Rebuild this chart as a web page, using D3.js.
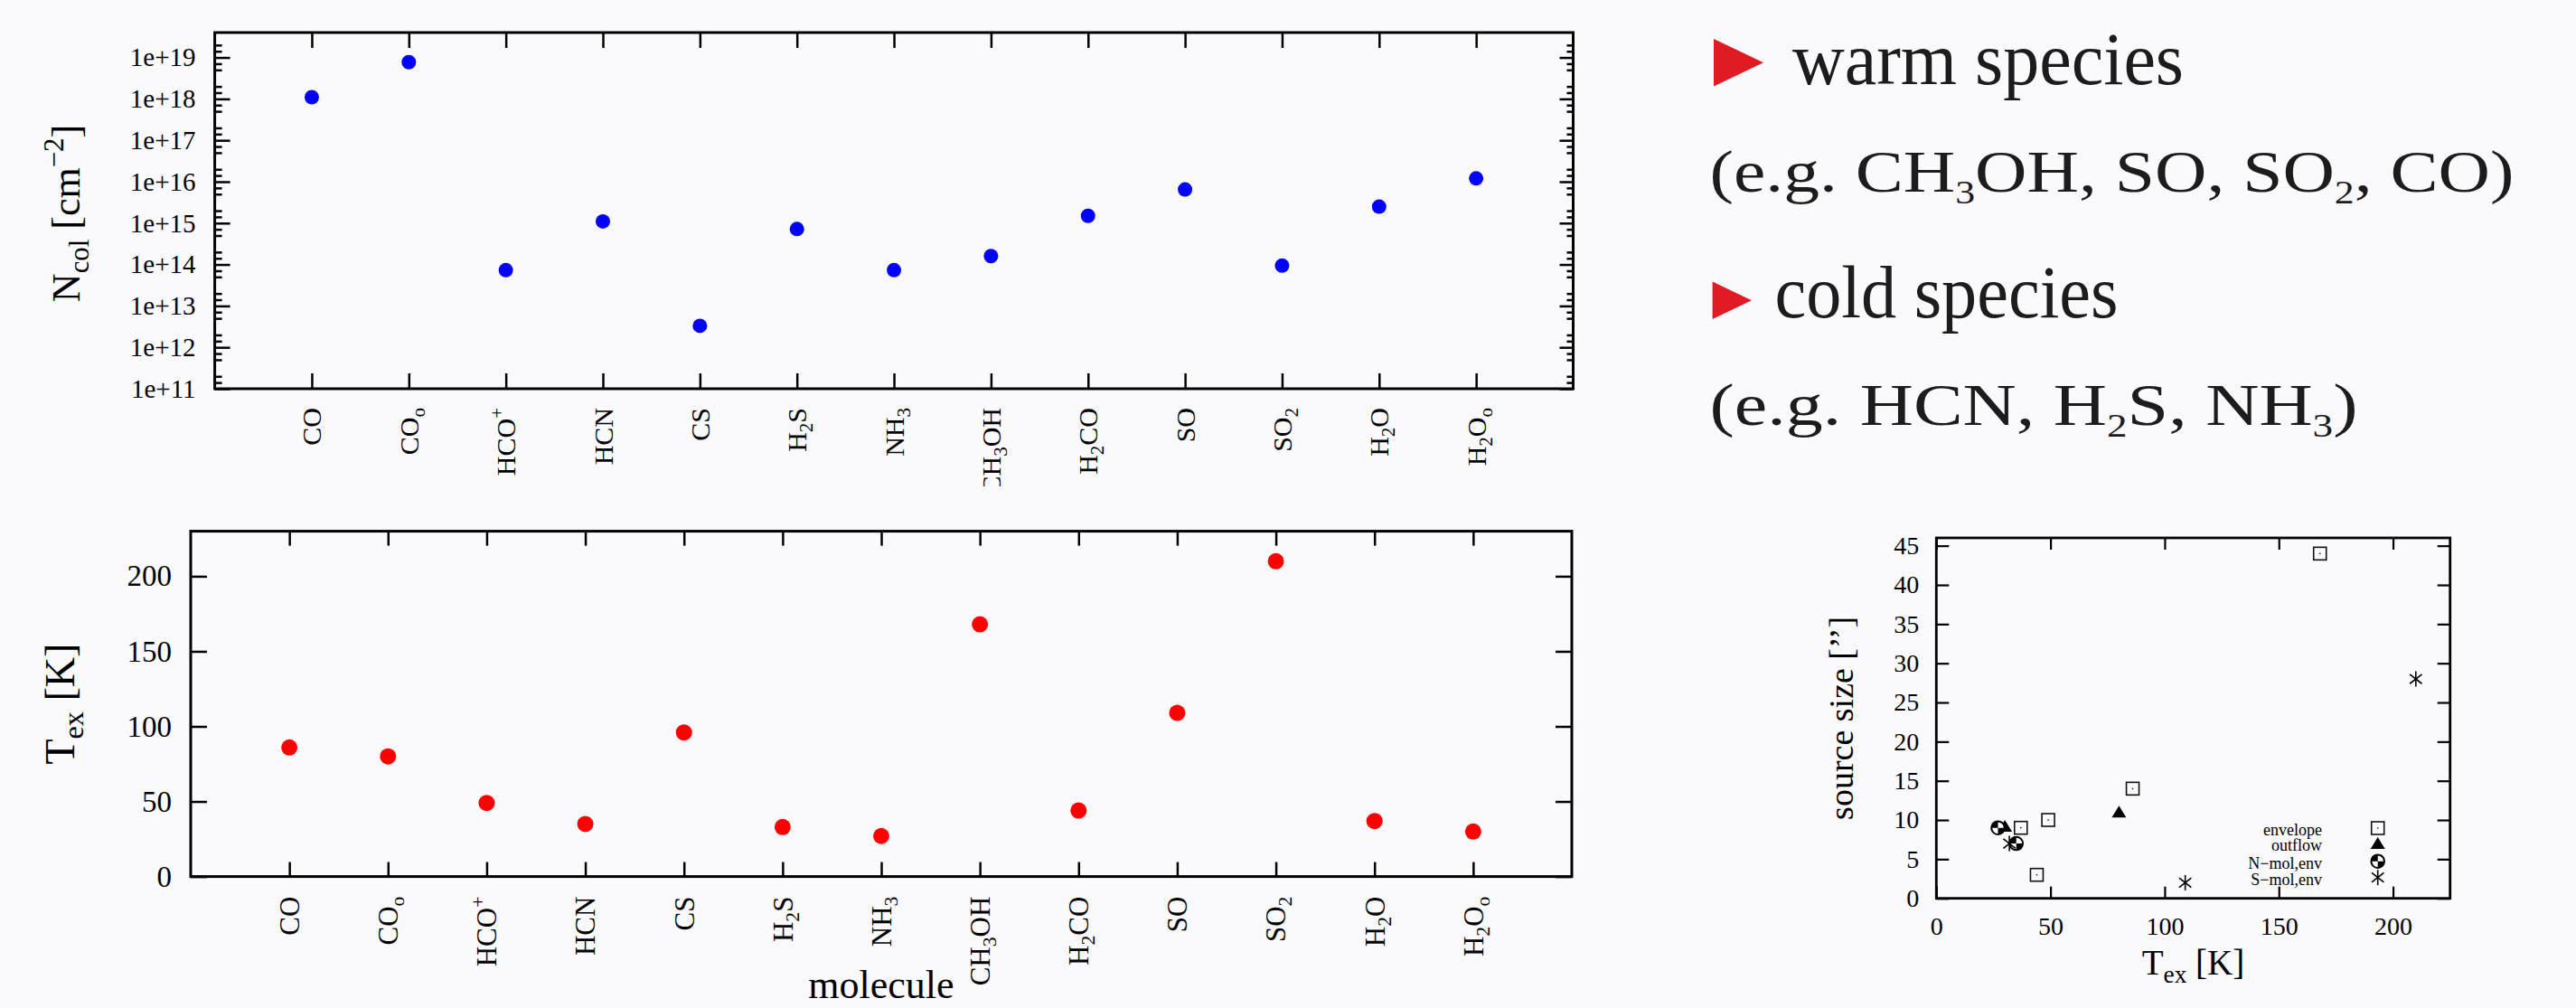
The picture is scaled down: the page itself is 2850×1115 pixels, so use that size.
<!DOCTYPE html>
<html><head><meta charset="utf-8">
<script src="https://cdn.jsdelivr.net/npm/d3@7"></script>
<style>html,body{margin:0;padding:0;background:#faf9fc;} svg{display:block;}</style>
</head><body>
<script>
// ---------------- data ----------------
const categories = ["CO","CO_o","HCO^+","HCN","CS","H_2S","NH_3","CH_3OH","H_2CO","SO","SO_2","H_2O","H_2O_o"];
const ncolValues = [1.1e18, 7.7e18, 7.3e13, 1.1e15, 3.3e12, 7.2e14, 7.3e13, 1.6e14, 1.5e15, 6.5e15, 9.4e13, 2.5e15, 1.2e16];
const texValues  = [86, 80, 49, 35, 96, 33, 27, 168, 44, 109, 210, 37, 30];
const ncolTickValues = [1e11,1e12,1e13,1e14,1e15,1e16,1e17,1e18,1e19];
const texTickValues = [0,50,100,150,200];
// source size vs Tex  ([Tex, size])
const envelopePts = [[86,14],[49,10],[37,9],[44,3],[168,44]];
const outflowPts  = [[80,11],[30,9.2]];
const nmolPts     = [[27,9],[35,7]];
const smolPts     = [[32,7],[109,2],[210,28]];
const sizeXTicks = [0,50,100,150,200];
const sizeYTicks = [0,5,10,15,20,25,30,35,40,45];
const legendNames = ["envelope","outflow","N\u2212mol,env","S\u2212mol,env"];

(function () {
// ---------------- helpers ----------------
const W = 2850, H = 1115;
const FONT = "'Liberation Serif','Times New Roman',serif";
const svg = d3.select("body").append("svg").attr("width", W).attr("height", H);
svg.append("rect").attr("width", W).attr("height", H).attr("fill", "#faf9fc");

function rich(textSel, str, fs, opt = {}) {
  const subScale = opt.subScale || 0.7, subShift = opt.subShift || 0.22, supShift = opt.supShift || 0.42;
  const parts = []; let buf = ""; let i = 0;
  while (i < str.length) {
    const c = str[i];
    if (c === "_" || c === "^") {
      if (buf) { parts.push({t: buf, k: "n"}); buf = ""; }
      let t;
      if (str[i+1] === "{") { const j = str.indexOf("}", i+2); t = str.slice(i+2, j); i = j + 1; }
      else { t = str[i+1]; i += 2; }
      parts.push({t, k: c === "_" ? "sub" : "sup"});
    } else { buf += c; i++; }
  }
  if (buf) parts.push({t: buf, k: "n"});
  parts.forEach(p => {
    const ts = textSel.append("tspan").text(p.t);
    if (p.k !== "n") {
      ts.attr("font-size", (fs * subScale) + "px")
        .attr("baseline-shift", (p.k === "sub" ? -subShift * fs : supShift * fs) + "px");
    }
  });
  return textSel;
}
function styleAxis(g, sw) {
  g.select(".domain").remove();
  g.selectAll("line").attr("stroke", "#000").attr("stroke-width", sw);
  g.attr("font-family", FONT);
}

// ---------------- top panel: column density ----------------
svg.append("clipPath").attr("id", "clipTop").append("rect").attr("x", 0).attr("y", 0).attr("width", 1850).attr("height", 538);
const topG = svg.append("g").attr("clip-path", "url(#clipTop)");
const tx = d3.scaleLinear().domain([0, 14]).range([237.6, 1740.5]);
const ty = d3.scaleLog().domain([1e11, 4e19]).range([430, 36]);
const minorLog = [];
ncolTickValues.forEach(v => [-0.3,-0.15,0.15,0.3].forEach(o => { const m = v * Math.pow(10, o); if (m > 1e11 && m < 4e19) minorLog.push(m); }));

let g = topG.append("g").attr("transform", `translate(${tx(0)},0)`)
  .call(d3.axisLeft(ty).tickValues(ncolTickValues).tickFormat(d => "1e+" + Math.round(Math.log10(d))).tickSize(-17).tickPadding(21));
styleAxis(g, 2.5);
g.selectAll("text").attr("font-size", 29).attr("fill", "#000");
g = topG.append("g").attr("transform", `translate(${tx(0)},0)`).call(d3.axisLeft(ty).tickValues(minorLog).tickFormat("").tickSize(-8));
styleAxis(g, 2.5);
g = topG.append("g").attr("transform", `translate(${tx(14)},0)`).call(d3.axisRight(ty).tickValues(ncolTickValues).tickFormat("").tickSize(-15));
styleAxis(g, 2.5);
g = topG.append("g").attr("transform", `translate(${tx(14)},0)`).call(d3.axisRight(ty).tickValues(minorLog).tickFormat("").tickSize(-7));
styleAxis(g, 2.5);
g = topG.append("g").attr("transform", `translate(0,${ty(1e11)})`).call(d3.axisBottom(tx).tickValues(d3.range(1, 14)).tickFormat("").tickSize(-17));
styleAxis(g, 2.5);
g = topG.append("g").attr("transform", `translate(0,${ty(4e19)})`).call(d3.axisTop(tx).tickValues(d3.range(1, 14)).tickFormat("").tickSize(-17));
styleAxis(g, 2.5);
topG.append("rect").attr("x", tx(0)).attr("y", ty(4e19)).attr("width", tx(14) - tx(0)).attr("height", ty(1e11) - ty(4e19))
  .attr("fill", "none").attr("stroke", "#000").attr("stroke-width", 3);
categories.forEach((c, i) => {
  const t = topG.append("text").attr("transform", `translate(${tx(i + 1)},${ty(1e11) + 21}) rotate(-90)`)
    .attr("text-anchor", "end").attr("dy", "0.35em").attr("font-family", FONT).attr("font-size", 30).attr("fill", "#000");
  rich(t, c, 30);
});
topG.selectAll("circle.n").data(ncolValues).join("circle").attr("class", "n")
  .attr("cx", (d, i) => tx(i + 1)).attr("cy", d => ty(d)).attr("r", 8).attr("fill", "#0000ff");
rich(topG.append("text").attr("transform", `translate(88,${(ty(1e11) + ty(4e19)) / 2 + 3}) rotate(-90)`)
  .attr("text-anchor", "middle").attr("font-family", FONT).attr("font-size", 44).attr("fill", "#000"), "N_{col} [cm^{\u22122}]", 44);

// ---------------- bottom panel: excitation temperature ----------------
const bx = d3.scaleLinear().domain([0, 14]).range([211, 1739]);
const by = d3.scaleLinear().domain([0, 230]).range([969.6, 587.6]);
const bot = svg.append("g");
g = bot.append("g").attr("transform", `translate(${bx(0)},0)`)
  .call(d3.axisLeft(by).tickValues(texTickValues).tickSize(-18).tickPadding(21));
styleAxis(g, 2.5);
g.selectAll("text").attr("font-size", 33).attr("fill", "#000");
g = bot.append("g").attr("transform", `translate(${bx(14)},0)`).call(d3.axisRight(by).tickValues(texTickValues).tickFormat("").tickSize(-18));
styleAxis(g, 2.5);
g = bot.append("g").attr("transform", `translate(0,${by(0)})`).call(d3.axisBottom(bx).tickValues(d3.range(1, 14)).tickFormat("").tickSize(-16));
styleAxis(g, 2.5);
g = bot.append("g").attr("transform", `translate(0,${by(230)})`).call(d3.axisTop(bx).tickValues(d3.range(1, 14)).tickFormat("").tickSize(-16));
styleAxis(g, 2.5);
bot.append("rect").attr("x", bx(0)).attr("y", by(230)).attr("width", bx(14) - bx(0)).attr("height", by(0) - by(230))
  .attr("fill", "none").attr("stroke", "#000").attr("stroke-width", 3);
bot.append("text").attr("x", (bx(0) + bx(14)) / 2).attr("y", 1104).attr("text-anchor", "middle")
  .attr("font-family", FONT).attr("font-size", 44).attr("fill", "#000").text("molecule");
categories.forEach((c, i) => {
  const t = bot.append("text").attr("transform", `translate(${bx(i + 1)},${by(0) + 22}) rotate(-90)`)
    .attr("text-anchor", "end").attr("dy", "0.35em").attr("font-family", FONT).attr("font-size", 31).attr("fill", "#000");
  rich(t, c, 31);
});
bot.selectAll("circle.t").data(texValues).join("circle").attr("class", "t")
  .attr("cx", (d, i) => bx(i + 1)).attr("cy", d => by(d)).attr("r", 9).attr("fill", "#ff0000");
rich(bot.append("text").attr("transform", `translate(82,${(by(0) + by(230)) / 2}) rotate(-90)`)
  .attr("text-anchor", "middle").attr("font-family", FONT).attr("font-size", 46).attr("fill", "#000"), "T_{ex} [K]", 46);

// ---------------- right text ----------------
const txt = svg.append("g").attr("font-family", FONT).attr("fill", "#1c1c1c");
const tri = (x0, y0, x1, y1) => `M${x0},${y0}L${x1},${(y0 + y1) / 2}L${x0},${y1}Z`;
txt.append("path").attr("d", tri(1896, 43, 1951, 95.4)).attr("fill", "#e01b24");
txt.append("path").attr("d", tri(1894.6, 311.6, 1938, 353)).attr("fill", "#e01b24");
const lines = [
  {s: "warm species", x: 1983, y: 93, fs: 82, w: 433},
  {s: "(e.g. CH_3OH, SO, SO_2, CO)", x: 1891.5, y: 212, fs: 66, w: 890},
  {s: "cold species", x: 1963.5, y: 351, fs: 82, w: 380},
  {s: "(e.g. HCN, H_2S, NH_3)", x: 1891.5, y: 470, fs: 66, w: 717}
];
lines.forEach(L => {
  const t = txt.append("text").attr("x", L.x).attr("y", L.y).attr("font-size", L.fs)
    .attr("textLength", L.w).attr("lengthAdjust", "spacingAndGlyphs");
  rich(t, L.s, L.fs, {subScale: 0.55, subShift: 0.19});
});

// ---------------- scatter: source size vs Tex ----------------
const sx = d3.scaleLinear().domain([0, 225]).range([2142.3, 2710.7]);
const sy = d3.scaleLinear().domain([0, 46]).range([993.7, 595]);
const sc = svg.append("g");
g = sc.append("g").attr("transform", `translate(${sx(0)},0)`).call(d3.axisLeft(sy).tickValues(sizeYTicks).tickSize(-14).tickPadding(19));
styleAxis(g, 2.2); g.selectAll("text").attr("font-size", 28).attr("fill", "#000");
g = sc.append("g").attr("transform", `translate(${sx(225)},0)`).call(d3.axisRight(sy).tickValues(sizeYTicks).tickFormat("").tickSize(-14));
styleAxis(g, 2.2);
g = sc.append("g").attr("transform", `translate(0,${sy(0)})`).call(d3.axisBottom(sx).tickValues(sizeXTicks).tickSize(-13).tickPadding(20));
styleAxis(g, 2.2); g.selectAll("text").attr("font-size", 28).attr("fill", "#000");
g = sc.append("g").attr("transform", `translate(0,${sy(46)})`).call(d3.axisTop(sx).tickValues(sizeXTicks).tickFormat("").tickSize(-13));
styleAxis(g, 2.2);
sc.append("rect").attr("x", sx(0)).attr("y", sy(46)).attr("width", sx(225) - sx(0)).attr("height", sy(0) - sy(46))
  .attr("fill", "none").attr("stroke", "#000").attr("stroke-width", 2.8);
rich(sc.append("text").attr("x", (sx(0) + sx(225)) / 2).attr("y", 1077.7).attr("text-anchor", "middle")
  .attr("font-family", FONT).attr("font-size", 39).attr("fill", "#000"), "T_{ex} [K]", 39);
sc.append("text").attr("transform", `translate(2050,${(sy(0) + sy(46)) / 2}) rotate(-90)`).attr("text-anchor", "middle")
  .attr("font-family", FONT).attr("font-size", 38).attr("fill", "#000").text("source size [\u2019\u2019]");

function markSquare(gg, x, y) {
  gg.append("rect").attr("x", x - 7).attr("y", y - 7).attr("width", 14).attr("height", 14).attr("fill", "none").attr("stroke", "#111").attr("stroke-width", 1.6);
  gg.append("rect").attr("x", x - 0.7).attr("y", y - 0.7).attr("width", 1.4).attr("height", 1.4).attr("fill", "#111");
}
function markTri(gg, x, y) {
  gg.append("path").attr("d", `M${x - 8},${y + 6}L${x + 8},${y + 6}L${x},${y - 7}Z`).attr("fill", "#000");
}
function markCirc(gg, x, y) {
  const r = 7.3;
  gg.append("circle").attr("cx", x).attr("cy", y).attr("r", r).attr("fill", "#fff").attr("stroke", "#000").attr("stroke-width", 2);
  gg.append("path").attr("d", `M${x},${y}L${x - r},${y}A${r},${r} 0 0 1 ${x},${y - r}Z`).attr("fill", "#000");
  gg.append("path").attr("d", `M${x},${y}L${x + r},${y}A${r},${r} 0 0 1 ${x},${y + r}Z`).attr("fill", "#000");
}
function markStar(gg, x, y) {
  const r = 8.5;
  [90, 38, -38].forEach(a => {
    const dx = r * Math.cos(a * Math.PI / 180), dy = r * Math.sin(a * Math.PI / 180);
    gg.append("line").attr("x1", x - dx).attr("y1", y - dy).attr("x2", x + dx).attr("y2", y + dy).attr("stroke", "#000").attr("stroke-width", 1.6);
  });
}
const marks = [markSquare, markTri, markCirc, markStar];
[envelopePts, outflowPts, nmolPts, smolPts].forEach((pts, k) => {
  pts.forEach(d => marks[k](sc, sx(d[0]), sy(d[1])));
});
// legend
const legY = [916, 933, 952.7, 970.7];
legendNames.forEach((n, k) => {
  sc.append("text").attr("x", 2569).attr("y", legY[k] + 8).attr("text-anchor", "end").attr("font-family", FONT)
    .attr("font-size", 18).attr("fill", "#000").text(n);
  marks[k](sc, 2630.7, legY[k]);
});
})();
</script>
</body></html>
